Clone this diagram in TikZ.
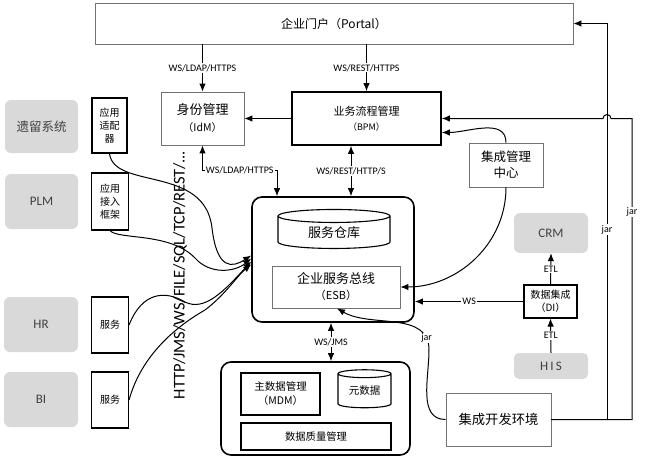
\documentclass[tikz,border=0pt]{standalone}
\usepackage{fontspec}
\setmainfont{Carlito}
\newfontfamily\cjk{Noto Sans CJK SC}
\usetikzlibrary{shapes.geometric}
\usetikzlibrary{calc}
\usetikzlibrary{arrows.meta}
\newcommand{\fsz}[2]{\fontsize{#1}{#2}\selectfont}

\begin{document}
\begin{tikzpicture}[x=1pt,y=1pt]
		\tikzset{
			box/.style={draw=black!55,line width=0.8pt,align=center,inner sep=1pt},
			boldbox/.style={draw=black,line width=1.6pt,align=center,inner sep=1pt},
			midbox/.style={draw=black,line width=1.1pt,align=center,inner sep=1pt},
			graybox/.style={fill=black!15,rounded corners=6pt,text=black!75,align=center},
			frame/.style={draw=black,line width=1.6pt,rounded corners=10pt},
			db/.style={draw=black,line width=1.1pt,cylinder,shape border rotate=90,aspect=0.25,align=center,inner sep=0pt},
			lbl/.style={fill=white,inner sep=1pt,font=\fsz{10}{11}},
		}
		\tikzset{
			edge/.style={color=black,line width=1pt,>={Latex[length=8pt,width=6.5pt]}},
		}
		\useasboundingbox (0,0) rectangle (648,-460);
		
		% top row
		\node[box,minimum width=478,minimum height=41,font=\cjk\fsz{12}{14}] (portal) at (334,-23.5) {企业门户（Portal）};
		\node[box,minimum width=83,minimum height=53,font=\cjk\fsz{13}{17}] (idm) at (202.5,-118.5) {身份管理\\\fsz{10.5}{14}（IdM）};
		\node[boldbox,minimum width=149,minimum height=53,font=\cjk\fsz{11}{15}] (bpm) at (366.5,-118.5) {业务流程管理\\\fsz{9}{13}（BPM）};
		
		% left systems
		\node[graybox,minimum width=73,minimum height=53,font=\cjk\fsz{12.5}{14}] (legacy) at (41.5,-126.5) {遗留系统};
		\node[graybox,minimum width=73,minimum height=55,font=\fsz{13}{14}] (plm) at (41.5,-201.5) {PLM};
		\node[graybox,minimum width=74,minimum height=55,font=\fsz{13}{14}] (hr) at (41,-324.5) {HR};
		\node[graybox,minimum width=74,minimum height=55,font=\fsz{13}{14}] (bi) at (41,-399.5) {BI};
		
		\node[midbox,minimum width=35,minimum height=55,font=\cjk\fsz{10}{13}] (adapter) at (109.5,-125.5) {应用\\适配\\器};
		\node[midbox,minimum width=37,minimum height=57,font=\cjk\fsz{10}{13}] (access) at (110,-201.5) {应用\\接入\\框架};
		\node[midbox,minimum width=37,minimum height=56,font=\cjk\fsz{10}{13}] (svchr) at (110,-325) {服务};
		\node[midbox,minimum width=37,minimum height=56,font=\cjk\fsz{10}{13}] (svcbi) at (110,-400) {服务};
		
		\node[rotate=90,font=\fsz{16.5}{17}] (proto) at (180,-275) {HTTP/JMS/WS/FILE/SQL/TCP/REST/...};
		
		% ESB
		\node[frame,minimum width=162,minimum height=125] (esb) at (333,-259.5) {};
		\node[db,minimum width=112,minimum height=39,font=\cjk\fsz{13}{14}] (repo) at (334,-232.5) {服务仓库};
		\node[box,minimum width=128,minimum height=42,font=\cjk\fsz{13}{16}] (esbbus) at (336,-287) {企业服务总线\\\fsz{11}{14}（ESB）};
		
		% right side
		\node[box,minimum width=74,minimum height=44,font=\cjk\fsz{12.5}{16}] (mgmt) at (506,-165) {集成管理\\中心};
		\node[graybox,minimum width=74,minimum height=40,font=\fsz{13}{14}] (crm) at (551,-233) {CRM};
		\node[midbox,minimum width=53,minimum height=33,font=\cjk\fsz{10}{13}] (di) at (550.5,-301.5) {数据集成\\（DI）};
		\node[graybox,minimum width=74,minimum height=26,rounded corners=5pt,font=\fsz{13}{14}] (his) at (551,-366) {H\,I\,S};
		\node[box,minimum width=105,minimum height=53,font=\cjk\fsz{13.3}{14}] (ide) at (498.5,-419.5) {集成开发环境};
		
		% MDM
		\node[frame,minimum width=189,minimum height=93] (mdmframe) at (315.5,-408.5) {};
		\node[midbox,minimum width=79,minimum height=42,font=\cjk\fsz{10.5}{14}] (mdm) at (280.5,-394) {主数据管理\\（MDM）};
		\node[db,minimum width=53,minimum height=38,font=\cjk\fsz{10.5}{12}] (meta) at (364.5,-391) {元数据};
		\node[midbox,minimum width=150,minimum height=27,font=\cjk\fsz{10.3}{12}] (dq) at (316,-436.5) {数据质量管理};
		
		\coordinate (ldapA) at (202.5,-170);
		\coordinate (ldapB) at (277,-170);
		\coordinate (rest) at (351,-171);
		\coordinate (jms) at (331,-342);
		\coordinate (jarbend) at (429,-350);
		\coordinate (jarin) at (607,-419.5);
		\coordinate (jarout) at (632,-419.5);
		
		\draw[->,edge] (idm |- portal.south) -- node[lbl]{WS/LDAP/HTTPS} (idm.north);
		\draw[->,edge] (bpm |- portal.south) -- node[lbl]{WS/REST/HTTPS} (bpm.north);
		\draw[->,edge] (bpm.west) -- (idm.east);
		\draw[<->,edge] (idm.south) -- (ldapA) -- node[lbl]{WS/LDAP/HTTPS} (ldapB) -- (ldapB |- esb.north);
		\draw[<->,edge] (rest |- bpm.south) -- node[lbl]{WS/REST/HTTP/S} (rest |- esb.north);
		\draw[<->,edge] (jms |- esb.south) -- node[lbl]{WS/JMS} (jms |- mdmframe.north);
		\draw[->,edge] (mgmt.north) to[out=90,in=0] ([yshift=-14pt]bpm.east);
		\draw[->,edge] (mgmt.south) to[out=-90,in=0] (esbbus.east);
		\draw[->,edge] (di.north) -- node[lbl]{ETL} (crm.south);
		\draw[->,edge] (his.north) -- node[lbl]{ETL} (di.south);
		\draw[->,edge] (di.west) -- node[lbl]{WS} (esb.east |- di.west);
		\draw[->,edge] (ide.west) to[out=180,in=-90] (jarbend) to[out=90,in=-30] node[lbl,pos=0.12]{jar} ([xshift=1pt]esbbus.south);
		\draw[->,edge] (ide.east) -- (jarin) -- node[lbl,pos=0.48]{jar} (jarin |- portal.east) -- (portal.east);
		\draw[->,edge] (ide.east) -- (jarout) -- node[lbl,pos=0.69]{jar} (jarout |- bpm.east) -- ($(jarin |- bpm.east)+(4,0)$) arc[start angle=0,end angle=180,radius=4] -- (bpm.east);
		
		\draw[->,edge] (adapter.south) .. controls (114,-190) and (205,-165) .. (212,-228) .. controls (217,-270) and (232,-268) .. ([yshift=4pt]esb.west);
		\draw[->,edge] (access.south) .. controls (118,-240) and (170,-232) .. (195,-258) .. controls (210,-275) and (235,-272) .. ([yshift=1pt]esb.west);
		\draw[->,edge] (svchr.east) .. controls (142,-292) and (165,-290) .. (185,-302) .. controls (205,-312) and (225,-290) .. ([yshift=-2pt]esb.west);
		\draw[->,edge] (svcbi.east) .. controls (140,-360) and (170,-330) .. (205,-310) .. controls (225,-295) and (238,-275) .. ([yshift=-5pt]esb.west);
\end{tikzpicture}
\end{document}
